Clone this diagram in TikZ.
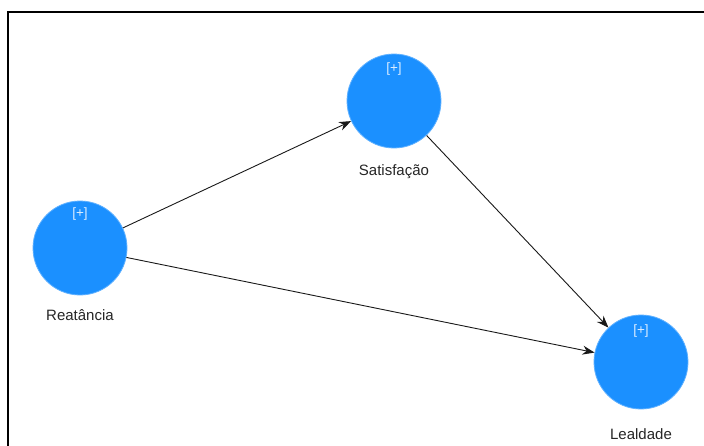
\documentclass[tikz,border=0pt]{standalone}
\usepackage{fontspec}
\setmainfont{Liberation Sans}
\usetikzlibrary{arrows.meta}
\definecolor{lvblue}{HTML}{1B90FF}
\tikzset{
  lv/.style={circle, fill=lvblue, draw=lvblue!70!white, line width=0.8pt, minimum size=94pt, inner sep=0pt},
  plus/.style={text=white!85!lvblue, font=\fontsize{13.5}{15}\selectfont},
  lbl/.style={font=\fontsize{15}{18}\selectfont, text=black!85},
  path/.style={draw=black!90, line width=0.9pt, -{Stealth[length=12pt,width=9pt]}}
}
\begin{document}
\begin{tikzpicture}[x=1pt,y=-1pt]
\useasboundingbox (0,0) rectangle (704,445);
\fill[white] (0,0) rectangle (704,445);
\draw[line width=1.6pt] (8,450) -- (8,12) -- (710,12);
\node[lv] (rea) at (80,248) {};
\node[lv] (sat) at (394,101) {};
\node[lv] (lea) at (641,362) {};
\node[plus] (reap) at (80,214) {[+]};
\node[plus] (satp) at (394,69) {[+]};
\node[plus] (leap) at (641,331) {[+]};
\node[lbl] (real) at (80,315) {Reatância};
\node[lbl] (satl) at (394,172) {Satisfação};
\node[lbl] (leal) at (641,434) {Lealdade};
\draw[path] (rea) -- (sat);
\draw[path] (rea) -- (lea);
\draw[path] (sat) -- (lea);
\end{tikzpicture}
\end{document}
